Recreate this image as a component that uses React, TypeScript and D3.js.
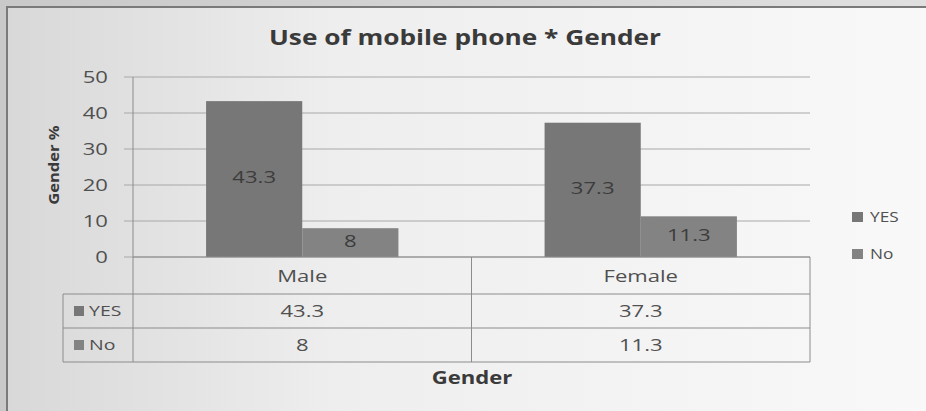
import React from "react";
import * as d3 from "d3";

const categories = ["Male", "Female"];
const seriesNames = ["YES", "No"];
const yesValues = [43.3, 37.3];
const noValues = [8, 11.3];
const yTicks = [0, 10, 20, 30, 40, 50];
const seriesColors = ["#777777", "#838383"];

const W = 926;
const H = 411;
const plotLeft = 133;
const plotRight = 810;
const plotTop = 77;
const plotBottom = 257;
const rowH = 34;
const catRowBottom = 294;
const tableLeft = 63;
const font = "'Open Sans', sans-serif";

function T({ x, y, anchor = "start", size = 17, bold = false, fill = "#505050", children, sx = 1.3 }: any) {
  return (
    <g transform={`translate(${x},${y}) scale(${sx},1)`}>
      <text x={0} y={0} dy="0.36em" textAnchor={anchor} fontSize={size} fontWeight={bold ? "bold" : "normal"} fill={fill}>
        {children}
      </text>
    </g>
  );
}

export default function App() {
  const x = d3.scaleBand<string>().domain(categories).range([plotLeft, plotRight]).paddingInner(0).paddingOuter(0);
  const inner = d3.scaleBand<string>().domain(seriesNames).range([0, x.bandwidth()]).paddingInner(0).paddingOuter(0.76);
  const y = d3.scaleLinear().domain([0, 50]).range([plotBottom, plotTop]);
  const series = [yesValues, noValues];
  const rowsTop = catRowBottom;

  return (
    <svg width={W} height={H} style={{ position: "absolute", left: 0, top: 0 }} fontFamily={font}>
      <defs>
        <linearGradient id="bg" x1="0" x2="1" y1="0" y2="0">
          <stop offset="0" stopColor="#c9c9c9" />
          <stop offset="1" stopColor="#e0e0e0" />
        </linearGradient>
        <linearGradient id="plotbg" x1="0" x2="1" y1="0" y2="0">
          <stop offset="0" stopColor="#d8d8d8" />
          <stop offset="0.35" stopColor="#eeeeee" />
          <stop offset="1" stopColor="#f9f9f9" />
        </linearGradient>
      </defs>
      <rect x={0} y={0} width={W} height={H} fill="url(#bg)" />
      <rect x={7} y={7} width={W + 10} height={H} fill="url(#plotbg)" stroke="#7a7a7a" strokeWidth={2} />
      <T x={465} y={37} anchor="middle" size={21} bold fill="#3a3a3a" sx={1.25}>
        Use of mobile phone * Gender
      </T>
      {yTicks.map((t) => (
        <g key={t}>
          <line x1={plotLeft - 9} x2={plotRight} y1={y(t)} y2={y(t)} stroke="#a8a8a8" strokeWidth={1} />
          <T x={108} y={y(t)} anchor="end" size={17}>
            {t}
          </T>
        </g>
      ))}
      <line x1={plotLeft} x2={plotLeft} y1={plotTop} y2={rowsTop + rowH * 2} stroke="#8c8c8c" strokeWidth={1} />
      <g transform={`translate(54,${(plotTop + plotBottom) / 2 - 2}) rotate(-90) scale(1.1,1)`}>
        <text x={0} y={0} dy="0.36em" textAnchor="middle" fontSize={15} fontWeight="bold" fill="#3a3a3a">
          Gender %
        </text>
      </g>
      {categories.map((c, ci) => (
        <g key={c}>
          {seriesNames.map((s, si) => {
            const v = series[si][ci];
            const bx = (x(c) as number) + (inner(s) as number);
            return (
              <g key={s}>
                <rect x={bx} y={y(v)} width={inner.bandwidth()} height={plotBottom - y(v)} fill={seriesColors[si]} />
                <T x={bx + inner.bandwidth() / 2} y={(y(v) + plotBottom) / 2 - 2} anchor="middle" size={17} fill="#3c3c3c">
                  {v}
                </T>
              </g>
            );
          })}
        </g>
      ))}
      <line x1={plotLeft} x2={plotRight} y1={plotBottom} y2={plotBottom} stroke="#8c8c8c" />
      {categories.map((c) => (
        <g key={c}>
          <line x1={(x(c) as number) + x.bandwidth()} x2={(x(c) as number) + x.bandwidth()} y1={plotBottom} y2={rowsTop + rowH * 2} stroke="#8c8c8c" />
          <T x={(x(c) as number) + x.bandwidth() / 2} y={(plotBottom + catRowBottom) / 2} anchor="middle" size={17}>
            {c}
          </T>
        </g>
      ))}
      {[0, 1, 2].map((i) => (
        <line key={i} x1={tableLeft} x2={plotRight} y1={rowsTop + rowH * i} y2={rowsTop + rowH * i} stroke="#8c8c8c" />
      ))}
      <line x1={tableLeft} x2={tableLeft} y1={rowsTop} y2={rowsTop + rowH * 2} stroke="#8c8c8c" />
      {seriesNames.map((s, si) => (
        <g key={s}>
          <rect x={74} y={rowsTop + rowH * si + rowH / 2 - 5} width={10} height={10} fill={seriesColors[si]} />
          <T x={89} y={rowsTop + rowH * si + rowH / 2} size={15}>
            {s}
          </T>
          {categories.map((c, ci) => (
            <T key={c} x={(x(c) as number) + x.bandwidth() / 2} y={rowsTop + rowH * si + rowH / 2} anchor="middle" size={17}>
              {series[si][ci]}
            </T>
          ))}
        </g>
      ))}
      <T x={472} y={378} anchor="middle" size={17} bold fill="#3a3a3a">
        Gender
      </T>
      {seriesNames.map((s, si) => (
        <g key={s}>
          <rect x={852} y={212 + si * 37} width={11} height={10} fill={seriesColors[si]} />
          <T x={870} y={217 + si * 37} size={15} sx={1.15}>
            {s}
          </T>
        </g>
      ))}
    </svg>
  );
}
